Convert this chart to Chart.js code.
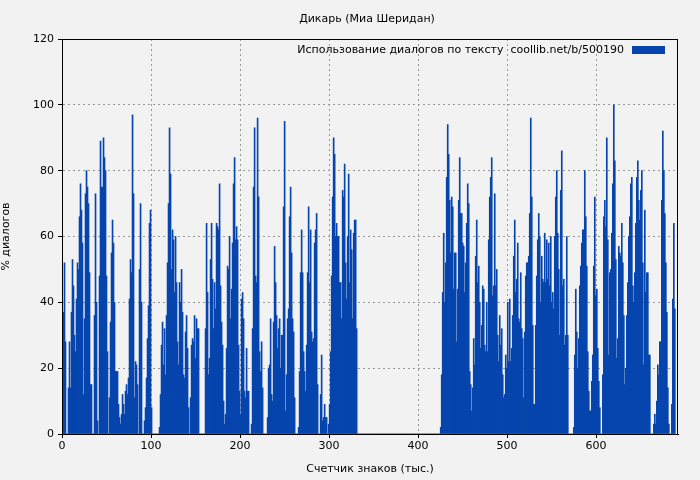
<!DOCTYPE html>
<html>
<head>
<meta charset="utf-8">
<script src="https://cdn.jsdelivr.net/npm/chart.js@4/dist/chart.umd.min.js"></script>
<style>
  html, body { margin: 0; padding: 0; background: #f2f2f2; }
  #wrap { width: 700px; height: 480px; }
</style>
</head>
<body>
<div id="wrap"><canvas id="chart"></canvas></div>
<script>
const chartTitle = 'Дикарь (Миа Шеридан)';
const legendLabel = 'Использование диалогов по тексту  coollib.net/b/500190';
const xTitle = 'Счетчик знаков (тыс.)';
const yTitle = '% диалогов';
const xTicks = [0, 100, 200, 300, 400, 500, 600];
const yTicks = [0, 20, 40, 60, 80, 100, 120];
// thousands of characters covered by one bar
const charsPerBar = 1.124;

// dialogue share per bar in order
const part1 = [11,37,52,28,0,0,14,28,14,37,53,45,30,25,41,52,50,66,76,68,58,12,35,73,80,75,70,49,15,15,0,0,36,73,40,4,0,48,89,75,75,90,84,80,48,25,0,11,34,55,65,58,40,19,19,19,9,5,3,6,12,9,6,13,15,12,17,41,53,49,97,73,11,22,21,15,0,50,70,40,0,0,4,8,17,29,39,64,68,8,0,0,0,0,0,0,0,2,12,27,34,21,32,18,36,52,70,93,79,50,62,59,43,60,46,28,21,46,40,50,37,18,17,31,36,26,8,0,11,27,29,28,36,23,35,32,32];
const part2 = [0,0,0,0,0,0,32,64,43,18,23,53,64,47,32,46,38,64,63,62,76,45,34,27,10,3,6,26,51,50,60,35,44,58,76,84,59,63,59,27,13,6,41,43,35,13,11,26,13,13,0,0,3,32,75,93,48,46,96,72,25,19,28,14,0,0,0,0,5,20,21,35,12,10,34,57,46,36,26,32,35,20,30,30,69,95,7,18,35,38,66,75,55,35,31,11,0,0,0,2,19,49,62,49,25,19,13,27,49,69,46,62,31,28,29,58,62,67,15,0,0,12,24,4,5,9,5,5,0,3,9,25,48];
const part3 = [72,90,85,60,64,60,60,46,46,35,74,72,82,52,41,60,79,46,62,56,35,61,65,65,32];
const gap = [0,0,0,0,0,0,0,0,0,0,0,0,0,0,0,0,0,0,0,0,0,0,0,0,0,0,0,0,0,0,0,0,0,0,0,0,0,0,0,0,0,0,0,0,0,0,0,0,0,0,0,0,0,0,0,0,0,0,0,0,0,0,0,0,0,0,0,0,0,0,0,0,0,0,0,0,0,0,0,0,0,0,0];
const part4 = [2,18,43,61,40,52,78,94,85,71,55,72,69,44,55,55,28,44,71,84,67,67,58,57,43,52,64,76,70,19,15,7,14,29,21,54,65,46,51,40,26,33,45,44,27,25,40,25,59,72,78,84,42,45,73,45,50,30,22,36,27,32,18,11,12,24,20,40,22,41,22,26,36,54,65,43,47,58,35,34,49,32,29,11,31,48,52,52,54,67,96,72,33,9,9,33,48,59,67,60,40,54,47,46,61,46,59,47,58,45,60,40];
const part5 = [43,38,60,72,80,61,50,30,74,86,45,47,27,30,60,30,0,0,0,0,0,2,24,44,31,20,29,45,51,58,62,62,80,66,51,25,13,7,7,16,24,51,72,42,44,26,16,8,0,0,18,66,71,63,90,59,24,49,50,61,76,100,83,53,23,29,57,55,54,64,52,36,15,20,36,46,60,66,76,78,45,40,49,64,78,83,71,65,74,80,52,21,68,43,49,49,24,24,0,0,0,3,6,3,10,21,18,28,28,71,92,80,67,52,37,14,3,0,0,9,41,64,38];

const values = [...part1, ...part2, ...part3, ...gap, ...part4, ...part5];
const points = values.map((v, i) => ({ x: (i + 0.5) * charsPerBar, y: v }));

const font = { family: 'DejaVu Sans', size: 11 };

const decor = {
    id: 'decor',
    afterDraw(chart) {
        const { ctx, chartArea } = chart;
        ctx.save();
        ctx.fillStyle = '#000';
        ctx.font = '11px "DejaVu Sans"';
        ctx.textAlign = 'center';
        ctx.textBaseline = 'middle';
        ctx.fillText(chartTitle, 367, 19);
        // legend, text then sample box, top right of the plot
        ctx.textAlign = 'right';
        ctx.fillText(legendLabel, chartArea.right - 54, 50);
        ctx.fillStyle = '#0645ad';
        ctx.fillRect(chartArea.right - 46, 46, 33, 8);
        // solid frame round the plot
        ctx.strokeStyle = '#000';
        ctx.lineWidth = 1;
        ctx.strokeRect(chartArea.left + 0.5, chartArea.top + 0.5,
            chartArea.right - chartArea.left - 1, chartArea.bottom - chartArea.top);
        ctx.restore();
    }
};

new Chart(document.getElementById('chart'), {
    type: 'bar',
    data: {
        datasets: [{
            label: legendLabel,
            data: points,
            backgroundColor: '#0645ad',
            borderColor: '#0645ad',
            borderWidth: 0,
            barPercentage: 1,
            categoryPercentage: 1
        }]
    },
    options: {
        responsive: true,
        maintainAspectRatio: false,
        animation: false,
        layout: { padding: { top: 39, right: 22, left: 0, bottom: 0 } },
        plugins: { legend: { display: false }, tooltip: { enabled: false } },
        scales: {
            x: {
                type: 'linear',
                offset: false,
                min: 0,
                max: 692,
                afterFit: s => { s.height = 46; },
                afterBuildTicks: s => { s.ticks = xTicks.map(v => ({ value: v })); },
                ticks: { font, color: '#000', maxRotation: 0, padding: 2 },
                grid: { offset: false, color: '#999', tickColor: '#000', tickLength: 4 },
                border: { color: '#000', width: 1, dash: [2, 3] },
                title: { display: true, text: xTitle, font, color: '#000', padding: { top: 4 } }
            },
            y: {
                min: 0,
                max: 120,
                afterFit: s => { s.width = 62; },
                afterBuildTicks: s => { s.ticks = yTicks.map(v => ({ value: v })); },
                ticks: { font, color: '#000', padding: 4 },
                grid: { color: '#999', tickColor: '#000', tickLength: 4 },
                border: { color: '#000', width: 1, dash: [2, 3] },
                title: { display: true, text: yTitle, font, color: '#000', padding: 0 }
            }
        }
    },
    plugins: [decor]
});
</script>
</body>
</html>
